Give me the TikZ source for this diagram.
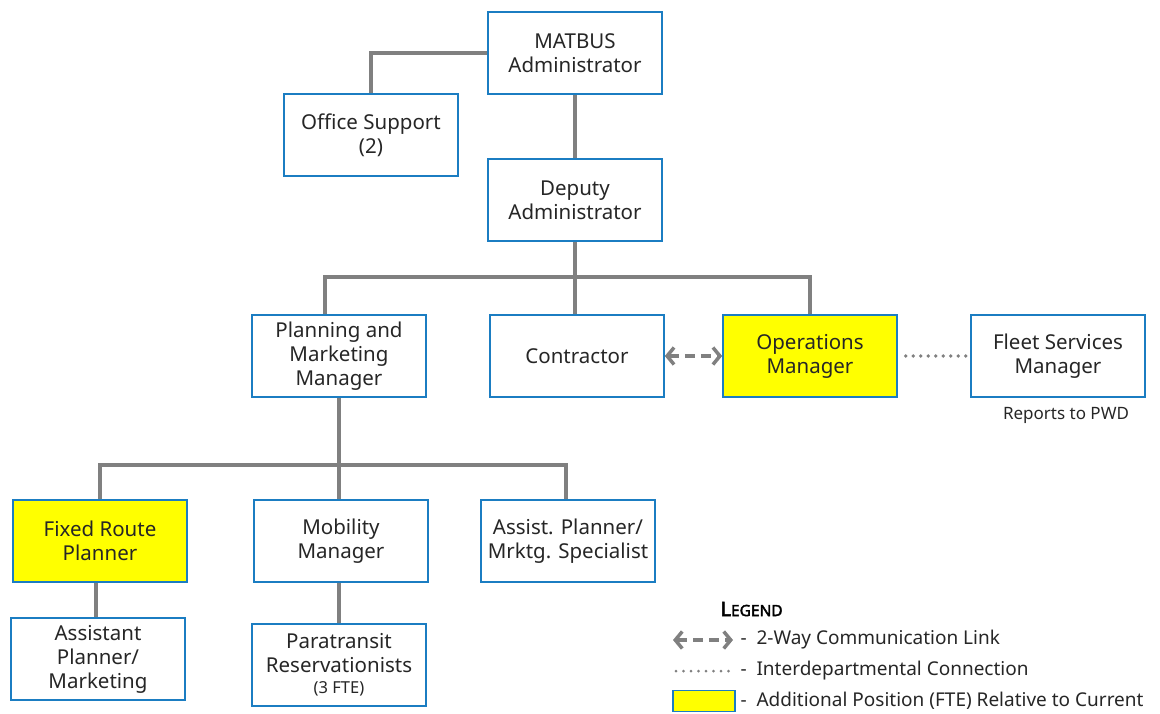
\documentclass[tikz,border=0pt]{standalone}
\usepackage{fontspec}
\setmainfont{Noto Sans}
\newfontfamily\legendfont{Noto Sans}[FakeBold=2.5]
\usetikzlibrary{arrows.meta}
\definecolor{boxblue}{HTML}{1B7DC2}
\definecolor{linegray}{HTML}{808080}
\definecolor{txtgray}{HTML}{262626}
\definecolor{addyellow}{HTML}{FFFF00}

\begin{document}
\begin{tikzpicture}[x=1pt,y=-1pt,
    box/.style={draw=boxblue,line width=1.6pt,fill=white,minimum width=174pt,
        minimum height=82pt,inner sep=0pt,align=center,text=txtgray,
        font=\fontsize{20.5}{24}\selectfont},
    addbox/.style={box,fill=addyellow},
    link/.style={draw=linegray,line width=4pt},
    twoway/.style={draw=linegray,line width=4pt,dash pattern=on 10pt off 6pt,
        {Straight Barb[length=7pt,width=17pt,line width=3.5pt]}-{Straight Barb[length=7pt,width=17pt,line width=3.5pt]}},
    interdept/.style={draw=linegray,line width=3.8pt,line cap=round,dash pattern=on 0pt off 7.5pt},
    note/.style={text=txtgray,font=\fontsize{19}{23}\selectfont}]
                    \useasboundingbox (0,0) rectangle (1160,713);

                    % Boxes
                    \node[box] (matbus) at (575, 53) {MATBUS\\Administrator};
                    \node[box] (office) at (371, 135) {Office Support\\(2)};
                    \node[box] (deputy) at (575, 200) {Deputy\\Administrator};
                    \node[box] (planning) at (339, 356) {Planning and\\Marketing\\Manager};
                    \node[box] (contractor) at (577, 356) {Contractor};
                    \node[addbox] (operations) at (810, 356) {Operations\\Manager};
                    \node[box] (fleet) at (1058, 356) {Fleet Services\\Manager};
                    \node[text=txtgray,font=\fontsize{17}{20}\selectfont] (pwd) at (1066, 415) {Reports to PWD};
                    \node[addbox] (fixed) at (100, 541) {Fixed Route\\Planner};
                    \node[box] (mobility) at (341, 541) {Mobility\\Manager};
                    \node[box] (assist) at (568, 541) {Assist. Planner/\\Mrktg. Specialist};
                    \node[box] (asstplanner) at (98, 659) {Assistant\\Planner/\\Marketing};
                    \node[box] (paratransit) at (339, 665) {Paratransit\\Reservationists\\[-3pt]{\fontsize{16.5}{19}\selectfont(3 FTE)}};

                    % Lines
                    \coordinate (deptbar) at (575, 277);
                    \coordinate (planbar) at (339, 465);
                    \draw[link] (office.north) |- (matbus.west);
                    \draw[link] (matbus) -- (deputy);
                    \draw[link] (deputy.south) -- (deptbar);
                    \draw[link] (planning.north -| 325,0) |- (deptbar) -| (operations.north);
                    \draw[link] (deptbar) -- (contractor.north -| deptbar);
                    \draw[link] (planning.south) -- (planbar);
                    \draw[link] (fixed.north) |- (planbar) -| (assist.north -| 566,0);
                    \draw[link] (planbar) -- (mobility.north -| planbar);
                    \draw[link] (fixed.south -| 96,0) -- (asstplanner.north -| 96,0);
                    \draw[link] (mobility.south -| planbar) -- (paratransit.north);
                    \draw[twoway] (contractor.east) -- (operations.west);
                    \draw[interdept] ([xshift=8pt]operations.east) -- ([xshift=-4pt]fleet.west);

                    % Legend
                    \node[anchor=west,text=black] (legend) at (717, 609) {\legendfont\fontsize{20}{22}\selectfont L\fontsize{15.5}{22}\selectfont EGEND};
                    \coordinate (twoa) at (673, 640);
                    \coordinate (twob) at (733, 640);
                    \draw[twoway] (twoa) -- (twob);
                    \node[note,anchor=west] (twotext) at (737, 640) {-\ \ 2-Way Communication Link};
                    \coordinate (dota) at (676, 671);
                    \coordinate (dotb) at (729, 671);
                    \draw[interdept,line width=3pt] (dota) -- (dotb);
                    \node[note,anchor=west] (dottext) at (737, 671) {-\ \ Interdepartmental Connection};
                    \node[draw=boxblue,line width=1.6pt,fill=addyellow,minimum width=62pt,minimum height=21pt,inner sep=0pt] (addkey) at (704, 701) {};
                    \node[note,anchor=west] (addtext) at (737, 701) {-\ \ Additional Position (FTE) Relative to Current};
                \end{tikzpicture}
\end{document}
